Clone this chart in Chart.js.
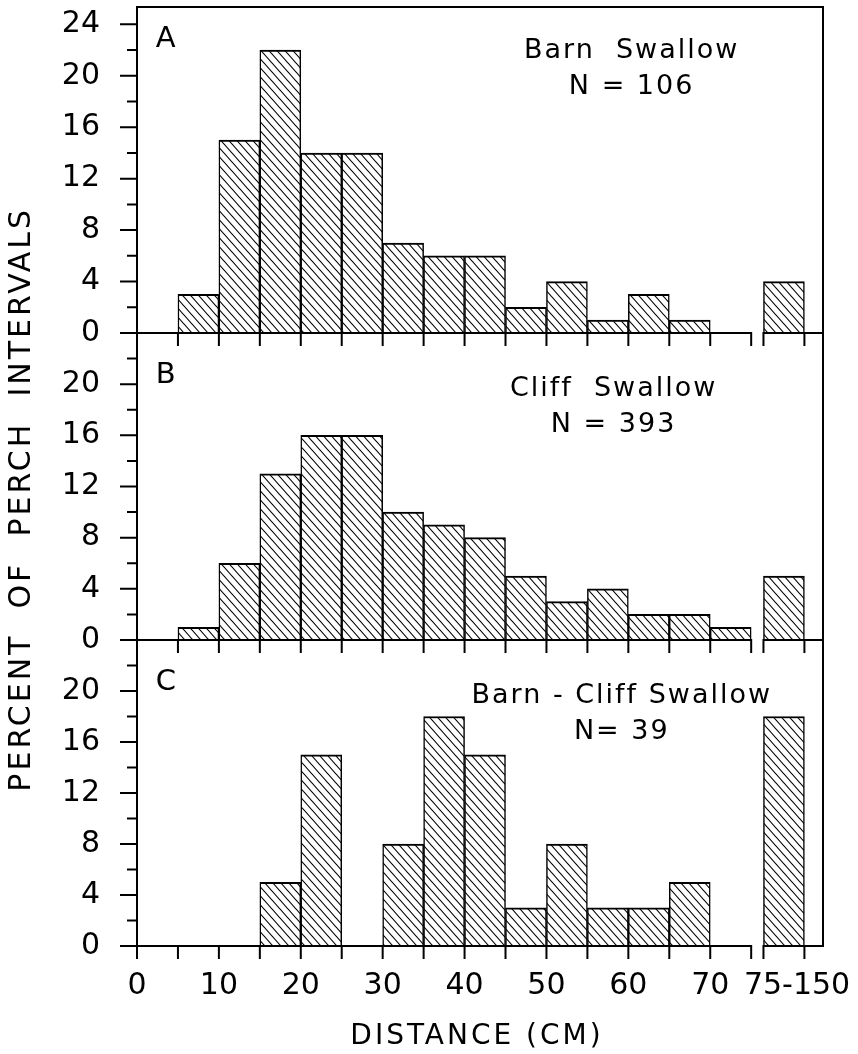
<!DOCTYPE html>
<html>
<head>
<meta charset="utf-8">
<script src="https://cdn.jsdelivr.net/npm/chart.js@4.4.1/dist/chart.umd.min.js"></script>
<style>
  html, body { margin: 0; padding: 0; background: #fff; }
  canvas { display: block; }
</style>
</head>
<body>
<canvas id="perch" width="858" height="1054"></canvas>
<script>
// distance classes (cm); the last one is the open class drawn after the axis break
const bins = ['5-10', '10-15', '15-20', '20-25', '25-30', '30-35', '35-40',
    '40-45', '45-50', '50-55', '55-60', '60-65', '65-70', '70-75', '75-150']

// percent of perch intervals
const barnSwallow = [3, 15, 22, 14, 14, 7, 6, 6, 2, 4, 1, 3, 1, 0, 4]
const cliffSwallow = [1, 6, 13, 16, 16, 10, 9, 8, 5, 3, 4, 2, 2, 1, 5]
const barnCliff = [0, 0, 5, 15, 0, 8, 18, 15, 3, 8, 3, 3, 5, 0, 18]

const xTickLabels = ['0', '10', '20', '30', '40', '50', '60', '70', '75-150']
const yTickValues = [0, 4, 8, 12, 16, 20, 24]
const panelLetters = ['A', 'B', 'C']
const speciesNames = ['Barn  Swallow', 'Cliff  Swallow', 'Barn - Cliff Swallow']
const sampleSizes = ['N = 106', 'N = 393', 'N= 39']

const axisIds = ['yA', 'yB', 'yC']
const series = [barnSwallow, cliffSwallow, barnCliff]

const BREAK_AT = 75      // first axis segment ends here
const OPEN_START = 76.5  // second segment (open class) starts here
const X_MAX = 83.77
const FONT = 'DejaVu Sans'

function binCenter(label) {
    const [lo, hi] = label.split('-').map(Number)
    if (hi > BREAK_AT) return OPEN_START + 2.5
    return (lo + hi) / 2
}

function tickValue(label) {
    if (label.indexOf('-') > 0) return binCenter(label) + 1.6
    return Number(label)
}

function makeHatch() {
    const w = 8, h = 9
    const c = document.createElement('canvas')
    c.width = w; c.height = h
    const g = c.getContext('2d')
    g.fillStyle = '#fff'
    g.fillRect(0, 0, w, h)
    g.strokeStyle = '#000'
    g.lineWidth = 1.1
    for (let k = -1; k <= 1; k++) {
        g.beginPath()
        g.moveTo(k * w - w, -h)
        g.lineTo(k * w + 2 * w, 2 * h)
        g.stroke()
    }
    return g.createPattern(c, 'repeat')
}

const hatch = makeHatch()

const datasets = series.map((vals, i) => {
    return {
        data: bins.map((b, j) => ({ x: binCenter(b), y: vals[j] })),
        yAxisID: axisIds[i],
        grouped: false,
        backgroundColor: hatch,
        borderColor: '#000',
        borderWidth: { top: 2, left: 1.5, right: 1.5, bottom: 0 },
        borderSkipped: false,
        barPercentage: 1,
        categoryPercentage: 1
    }
})

function noPadding(s) {
    s.paddingTop = 0
    s.paddingBottom = 0
    s.paddingLeft = 0
    s.paddingRight = 0
}

function yScale(id, max, weight, order) {
    return {
        type: 'linear',
        position: 'left',
        stack: 'panels',
        stackWeight: weight,
        weight: order,
        min: 0,
        max: max,
        grid: { display: false, drawTicks: false },
        border: { display: false },
        afterBuildTicks: s => {
            s.ticks = yTickValues.map(v => ({ value: v }))
        },
        ticks: {
            autoSkip: false,
            padding: 37,
            color: '#000',
            font: { family: FONT, size: 30 },
            callback: v => (id !== 'yA' && v > 22) ? '' : v
        },
        afterFit: s => {
            s.width = 137
            noPadding(s)
        }
    }
}

// panel letter / label heights in each panel's own percent units
const letterY = [22.8, 20.7, 20.7]
const nameY = [21.9, 19.6, 19.6]
const countY = [19.1, 16.8, 16.8]
const labelX = [60.4, 58.2, 59.2]

const frame = {
    id: 'frame',
    afterDatasetsDraw(chart) {
        const { ctx, chartArea: a, scales } = chart
        const x = scales.x
        ctx.save()
        ctx.strokeStyle = '#000'
        ctx.lineWidth = 2
        ctx.lineCap = 'square'

        ctx.beginPath()
        ctx.moveTo(a.left, a.bottom)
        ctx.lineTo(a.left, a.top)
        ctx.lineTo(a.right, a.top)
        ctx.lineTo(a.right, a.bottom)
        ctx.stroke()

        ctx.lineCap = 'butt'
        axisIds.forEach(id => {
            const y = scales[id]
            const y0 = y.getPixelForValue(0)
            ctx.beginPath()
            ctx.moveTo(a.left, y0)
            ctx.lineTo(x.getPixelForValue(BREAK_AT), y0)
            ctx.moveTo(x.getPixelForValue(OPEN_START), y0)
            ctx.lineTo(a.right, y0)
            ctx.stroke()

            // distance ticks below each baseline
            const ticks = []
            for (let v = 0; v <= BREAK_AT; v += 5) ticks.push(v)
            ticks.push(OPEN_START, OPEN_START + 5)
            ctx.beginPath()
            ticks.forEach(v => {
                const px = x.getPixelForValue(v)
                ctx.moveTo(px, y0 - 1)
                ctx.lineTo(px, y0 + 13)
            })
            // percent ticks on the left
            const top = id === 'yA' ? 24 : 22
            for (let v = 0; v <= top; v += 2) {
                const py = y.getPixelForValue(v)
                const len = v % 4 === 0 ? 17 : 10
                ctx.moveTo(a.left - len, py)
                ctx.lineTo(a.left, py)
            }
            ctx.stroke()
        })
        ctx.restore()
    },
    afterDraw(chart) {
        const { ctx, chartArea: a, scales } = chart
        const x = scales.x
        ctx.save()
        ctx.fillStyle = '#000'
        ctx.textBaseline = 'middle'

        axisIds.forEach((id, i) => {
            const y = scales[id]
            ctx.font = '29px "' + FONT + '"'
            ctx.letterSpacing = '0px'
            ctx.textAlign = 'left'
            ctx.fillText(panelLetters[i], x.getPixelForValue(2.3), y.getPixelForValue(letterY[i]))

            ctx.textAlign = 'center'
            ctx.letterSpacing = '2px'
            ctx.font = '27px "' + FONT + '"'
            const cx = x.getPixelForValue(labelX[i])
            ctx.fillText(speciesNames[i], cx, y.getPixelForValue(nameY[i]))
            ctx.fillText(sampleSizes[i], cx, y.getPixelForValue(countY[i]))
        })

        // axis titles
        ctx.textAlign = 'center'
        ctx.letterSpacing = '3px'
        ctx.font = '30px "' + FONT + '"'
        ctx.save()
        ctx.translate(22, scales.yB.getPixelForValue(11))
        ctx.rotate(-Math.PI / 2)
        ctx.fillText('PERCENT  OF  PERCH  INTERVALS', 0, 0)
        ctx.restore()

        ctx.font = '28px "' + FONT + '"'
        ctx.fillText('DISTANCE (CM)', (a.left + a.right) / 2 - 3, a.bottom + 91)
        ctx.restore()
    }
}

const config = {
    type: 'bar',
    data: { datasets: datasets },
    options: {
        responsive: false,
        animation: false,
        devicePixelRatio: 1,
        layout: { padding: { top: 7, right: 35, left: 0, bottom: 0 } },
        plugins: {
            legend: { display: false },
            tooltip: { enabled: false },
            title: { display: false }
        },
        scales: {
            x: {
                type: 'linear',
                min: 0,
                max: X_MAX,
                offset: false,
                grid: { display: false, drawTicks: false, offset: false },
                border: { display: false },
                afterBuildTicks: s => {
                    s.ticks = xTickLabels.map(l => ({ value: tickValue(l) }))
                },
                ticks: {
                    autoSkip: false,
                    maxRotation: 0,
                    padding: 22,
                    color: '#000',
                    font: { family: FONT, size: 30 },
                    callback: (v, i) => xTickLabels[i]
                },
                afterFit: s => {
                    s.height = 108
                    noPadding(s)
                }
            },
            yA: yScale('yA', 25.35, 326, 3),
            yB: yScale('yB', 24, 307, 2),
            yC: yScale('yC', 24, 306, 1)
        }
    },
    plugins: [frame]
}

const perchChart = new Chart(document.getElementById('perch'), config)
</script>
</body>
</html>
